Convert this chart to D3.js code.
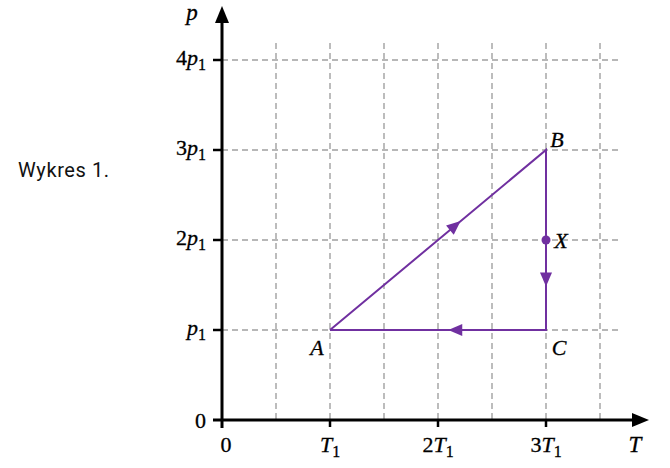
<!DOCTYPE html>
<html><head><meta charset="utf-8">
<script src="https://cdn.jsdelivr.net/npm/d3@7"></script>
<style>body{margin:0;background:#fff}svg{display:block}</style>
</head><body>
<svg id="c" width="670" height="468"></svg>
<script>
// data (units of T1 and p1)
const xTicks = [{v:0, c:"", s:""},{v:1, c:"", s:"1"},{v:2, c:"2", s:"1"},{v:3, c:"3", s:"1"}];
const yTicks = [{v:0, c:"0", s:""},{v:1, c:"", s:"1"},{v:2, c:"2", s:"1"},{v:3, c:"3", s:"1"},{v:4, c:"4", s:"1"}];
const xGrid = [0.5,1,1.5,2,2.5,3,3.5];
const yGrid = [1,2,3,4];
const points = [{n:"A", T:1, p:1},{n:"B", T:3, p:3},{n:"C", T:3, p:1}];
const pointX = {n:"X", T:3, p:2};
const cycle = ["A","B","C","A"];
const arrowPos = [0.58, 0.72, 0.42]; // fraction along each segment

const svg = d3.select("#c");
const x = d3.scaleLinear().domain([0,1]).range([222,330]);
const y = d3.scaleLinear().domain([0,1]).range([420,330]);
const purple = "#7030a0";
const mathFont = "'Liberation Serif', 'DejaVu Serif', serif";

// grid
svg.append("g").selectAll("line").data(xGrid).join("line")
  .attr("x1", d=>x(d)).attr("x2", d=>x(d)).attr("y1", 43).attr("y2", 420)
  .attr("stroke","#a6a6a6").attr("stroke-width",1.5).attr("stroke-dasharray","6,4");
svg.append("g").selectAll("line").data(yGrid).join("line")
  .attr("x1", 222).attr("x2", 621).attr("y1", d=>y(d)).attr("y2", d=>y(d))
  .attr("stroke","#a0a0a0").attr("stroke-width",1.5).attr("stroke-dasharray","6,4");

// axes
svg.append("line").attr("x1",222).attr("x2",222).attr("y1",428).attr("y2",20)
  .attr("stroke","#000").attr("stroke-width",3);
svg.append("line").attr("x1",213).attr("x2",636).attr("y1",420).attr("y2",420)
  .attr("stroke","#000").attr("stroke-width",3);
svg.append("path").attr("d","M222,6 L215,23 L229,23 Z").attr("fill","#000");
svg.append("path").attr("d","M649,420 L632,413 L632,427 Z").attr("fill","#000");

// ticks
svg.append("g").selectAll("line").data(yTicks.filter(d=>d.v>0)).join("line")
  .attr("x1",213).attr("x2",222).attr("y1",d=>y(d.v)).attr("y2",d=>y(d.v))
  .attr("stroke","#000").attr("stroke-width",2.5);
svg.append("g").selectAll("line").data(xTicks.filter(d=>d.v>0)).join("line")
  .attr("x1",d=>x(d.v)).attr("x2",d=>x(d.v)).attr("y1",420).attr("y2",427)
  .attr("stroke","#000").attr("stroke-width",2.5);

// y tick labels
const yl = svg.append("g").selectAll("text").data(yTicks).join("text")
  .attr("x", 206).attr("y", d=>y(d.v)+ (d.v===0?8:5)).attr("text-anchor","end")
  .attr("font-family", mathFont).attr("font-size",22).attr("fill","#000")
  .attr("stroke","#000").attr("stroke-width",0.3);
yl.each(function(d){
  const t = d3.select(this);
  if (d.v===0){ t.text("0"); return; }
  if (d.c) t.append("tspan").text(d.c);
  t.append("tspan").attr("font-style","italic").text("p");
  t.append("tspan").attr("font-size",16).attr("dy",5).text(d.s);
});

// x tick labels
const xl = svg.append("g").selectAll("text").data(xTicks).join("text")
  .attr("x", d=> d.v===0 ? 226 : x(d.v)).attr("y", 452).attr("text-anchor","middle")
  .attr("font-family", mathFont).attr("font-size",22).attr("fill","#000")
  .attr("stroke","#000").attr("stroke-width",0.3);
xl.each(function(d){
  const t = d3.select(this);
  if (d.v===0){ t.text("0"); return; }
  if (d.c) t.append("tspan").text(d.c);
  t.append("tspan").attr("font-style","italic").text("T");
  t.append("tspan").attr("font-size",16).attr("dy",5).text(d.s);
});

// axis names
svg.append("text").attr("x",192).attr("y",20).attr("text-anchor","middle")
  .attr("font-family",mathFont).attr("font-style","italic").attr("font-size",23)
  .attr("stroke","#000").attr("stroke-width",0.3).text("p");
svg.append("text").attr("x",635).attr("y",452).attr("text-anchor","middle")
  .attr("font-family",mathFont).attr("font-style","italic").attr("font-size",23)
  .attr("stroke","#000").attr("stroke-width",0.3).text("T");

// title
svg.append("text").attr("x",18).attr("y",177).attr("font-family","Roboto, 'Noto Sans', sans-serif")
  .attr("font-size",20).attr("letter-spacing",0.6).attr("fill","#111").text("Wykres 1.");

// cycle
const byName = Object.fromEntries(points.map(d=>[d.n,d]));
const path = cycle.map(n=>byName[n]);
svg.append("path").attr("d", d3.line().x(d=>x(d.T)).y(d=>y(d.p))(path))
  .attr("fill","none").attr("stroke",purple).attr("stroke-width",2);

// arrows
for (let i=0;i<cycle.length-1;i++){
  const a = byName[cycle[i]], b = byName[cycle[i+1]];
  const x0=x(a.T), y0=y(a.p), x1=x(b.T), y1=y(b.p);
  const f = arrowPos[i];
  const cx = x0+(x1-x0)*f, cy = y0+(y1-y0)*f;
  const ang = Math.atan2(y1-y0, x1-x0)*180/Math.PI;
  svg.append("path").attr("d","M7,0 L-7,-6 L-7,6 Z").attr("fill",purple)
    .attr("transform",`translate(${cx},${cy}) rotate(${ang})`);
}

// point X
svg.append("circle").attr("cx",x(pointX.T)).attr("cy",y(pointX.p)).attr("r",4.5).attr("fill",purple);

// labels
const labOff = {A:[-13,25], B:[11,-3], C:[13,25], X:[15,8]};
svg.append("g").selectAll("text").data([...points, pointX]).join("text")
  .attr("x", d=>x(d.T)+labOff[d.n][0]).attr("y", d=>y(d.p)+labOff[d.n][1])
  .attr("text-anchor","middle").attr("font-family",mathFont).attr("font-style","italic")
  .attr("font-size",22).attr("fill","#000").attr("stroke","#000").attr("stroke-width",0.3)
  .text(d=>d.n);
</script>
</body></html>
